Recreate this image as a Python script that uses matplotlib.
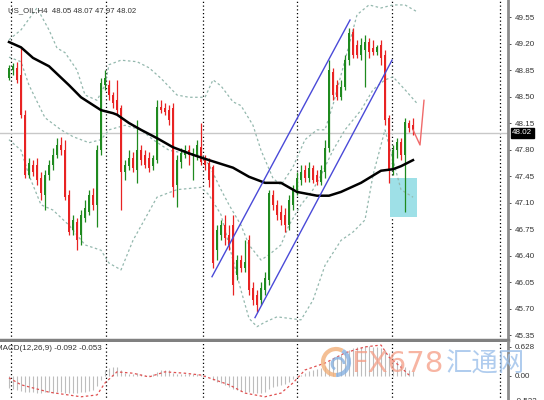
import matplotlib.pyplot as plt
from matplotlib.patches import Rectangle, Arc

plt.rcParams['font.family'] = ['Liberation Sans', 'DejaVu Sans']

# US_OIL H4 candles (one bar every 4 px)
opens = [48.74, 48.85, 48.88, 48.78, 48.26, 47.46, 47.60, 47.60, 47.42, 47.20,
         47.46, 47.60, 47.73, 47.86, 47.79, 47.20, 46.74, 46.84, 46.67, 46.90,
         46.98, 47.20, 47.07, 47.79, 48.65, 48.65, 48.52, 48.45, 48.35, 47.50,
         47.58, 47.69, 47.53, 47.79, 47.73, 47.69, 47.58, 47.66, 48.36, 48.35,
         48.32, 48.35, 47.33, 47.64, 47.73, 47.79, 47.73, 47.73, 47.83, 47.66,
         47.62, 47.57, 46.47, 46.67, 46.80, 46.67, 46.80, 46.14, 46.34, 46.24,
         46.60, 45.97, 45.88, 45.81, 45.94, 46.08, 47.20, 47.07, 46.98, 46.94,
         46.80, 47.07, 47.27, 47.40, 47.53, 47.42, 47.56, 47.46, 47.37, 47.50,
         47.82, 48.82, 48.65, 48.49, 48.63, 48.98, 49.35, 49.18, 49.05, 49.11,
         49.22, 49.14, 49.09, 49.18, 49.05, 48.22, 47.56, 47.79, 47.90, 47.73,
         48.15, 48.12]
highs = [48.92, 48.94, 48.96, 49.14, 48.32, 47.69, 47.66, 47.69, 47.50, 47.53,
         47.66, 47.82, 47.95, 47.97, 47.93, 47.27, 46.94, 46.90, 47.00, 47.13,
         47.27, 47.29, 47.86, 48.74, 48.85, 48.72, 48.56, 48.72, 48.39, 47.66,
         47.79, 47.77, 48.19, 47.86, 47.79, 47.77, 47.73, 48.45, 48.45, 48.41,
         48.39, 48.41, 47.73, 47.82, 47.86, 47.86, 47.82, 47.93, 48.15, 47.73,
         47.69, 47.60, 46.80, 46.87, 46.94, 46.80, 46.94, 46.41, 46.41, 46.60,
         46.67, 46.05, 45.94, 46.05, 46.18, 47.27, 47.27, 47.13, 47.07, 47.03,
         47.20, 47.33, 47.50, 47.60, 47.60, 47.64, 47.60, 47.53, 47.60, 47.93,
         48.98, 48.88, 48.72, 48.72, 49.05, 49.41, 49.41, 49.25, 49.27, 49.31,
         49.27, 49.25, 49.18, 49.25, 49.11, 48.26, 47.86, 47.95, 47.95, 48.22,
         48.19, 48.22]
lows = [48.72, 48.78, 48.68, 48.22, 47.42, 47.42, 47.45, 47.33, 47.13, 47.00,
        47.40, 47.53, 47.69, 47.73, 47.13, 46.67, 46.67, 46.47, 46.54, 46.84,
        46.94, 47.00, 46.77, 47.73, 48.59, 48.45, 48.35, 48.26, 47.00, 47.40,
        47.53, 47.50, 47.36, 47.60, 47.56, 47.50, 47.53, 47.62, 48.28, 48.26,
        48.12, 47.17, 47.04, 47.56, 47.69, 47.60, 47.40, 47.66, 47.60, 47.53,
        47.30, 46.24, 46.34, 46.60, 46.54, 46.47, 45.88, 46.08, 46.18, 46.18,
        45.88, 45.74, 45.65, 45.74, 45.88, 46.01, 47.00, 46.87, 46.80, 46.71,
        46.74, 47.00, 47.20, 47.33, 47.37, 47.37, 47.36, 47.33, 47.33, 47.42,
        47.77, 48.45, 48.45, 48.45, 48.59, 48.92, 49.01, 49.01, 48.98, 48.63,
        49.01, 49.05, 49.05, 48.92, 48.12, 47.36, 47.46, 47.69, 47.66, 46.98,
        48.03, 47.99]
closes = [48.88, 48.90, 48.72, 48.26, 47.46, 47.62, 47.50, 47.40, 47.23, 47.46,
          47.60, 47.73, 47.86, 47.79, 47.17, 46.71, 46.87, 46.60, 46.94, 47.03,
          47.20, 47.07, 47.79, 48.68, 48.74, 48.52, 48.41, 48.32, 47.50, 47.60,
          47.69, 47.56, 47.79, 47.66, 47.60, 47.56, 47.69, 48.36, 48.32, 48.30,
          48.19, 47.30, 47.66, 47.75, 47.79, 47.73, 47.75, 47.86, 47.64, 47.60,
          47.40, 46.30, 46.74, 46.80, 46.63, 46.54, 46.01, 46.34, 46.24, 46.31,
          45.94, 45.81, 45.74, 45.97, 46.10, 47.23, 47.07, 46.94, 46.87, 46.80,
          47.13, 47.27, 47.42, 47.50, 47.42, 47.56, 47.40, 47.37, 47.53, 47.82,
          48.85, 48.52, 48.49, 48.63, 48.98, 49.34, 49.05, 49.05, 49.18, 49.22,
          49.09, 49.09, 49.15, 49.01, 48.19, 47.53, 47.79, 47.90, 47.73, 48.16,
          48.08, 48.06]

# live bar outline at the right end
tail_x = [101, 102.75, 103.75]
tail_p = [48.06, 47.86, 48.45]

# black moving average
ma_x = [0, 3, 6, 10, 15, 18, 23, 26, 27, 30, 33, 37, 41, 46, 50, 56, 60, 64,
        68, 72, 77, 80, 83, 88, 93, 96, 98, 101]
ma_p = [49.22, 49.15, 49.01, 48.90, 48.65, 48.49, 48.32, 48.28, 48.26, 48.15,
        48.06, 47.95, 47.83, 47.73, 47.66, 47.56, 47.44, 47.36, 47.36, 47.24,
        47.19, 47.19, 47.24, 47.36, 47.52, 47.54, 47.58, 47.66]

# bollinger bands (dotted)
up_x = [0, 3, 7, 10, 12, 14, 17, 19, 22, 24, 25, 28, 32, 35, 38, 42, 45, 49,
        51, 53, 56, 58, 61, 63, 66, 68, 71, 74, 77, 79, 81, 84, 87, 90, 93, 96,
        99, 102]
up_p = [49.25, 49.38, 49.67, 49.38, 49.14, 49.08, 48.85, 48.52, 48.45, 48.65,
        48.92, 48.98, 48.96, 48.88, 48.74, 48.52, 48.49, 48.49, 48.72, 48.64,
        48.43, 48.38, 48.12, 47.79, 47.42, 47.33, 47.57, 47.93, 48.06, 48.06,
        48.39, 48.98, 49.58, 49.71, 49.67, 49.71, 49.71, 49.62]
mid_x = [0, 3, 5, 9, 13, 16, 20, 23, 25, 29, 33, 36, 40, 44, 48, 50, 53, 55,
         58, 60, 63, 65, 68, 70, 73, 76, 78, 81, 84, 88, 91, 94, 96, 99, 102]
mid_p = [49.02, 48.96, 48.65, 48.22, 48.06, 47.97, 47.89, 47.93, 48.06, 48.12,
         48.06, 47.93, 47.79, 47.75, 47.73, 47.60, 47.27, 47.07, 46.80, 46.54,
         46.34, 46.41, 46.54, 46.80, 47.07, 47.27, 47.46, 47.79, 48.06, 48.32,
         48.59, 48.72, 48.76, 48.59, 48.41]
low_x = [0, 3, 5, 8, 11, 15, 19, 23, 25, 28, 31, 37, 42, 48, 50, 53, 55, 58,
         60, 62, 64, 67, 70, 73, 76, 79, 83, 86, 89, 91, 94, 96, 98, 101]
low_p = [47.93, 47.79, 47.46, 47.07, 47.00, 46.80, 46.54, 46.47, 46.30, 46.21,
         46.60, 47.17, 47.27, 47.30, 47.20, 46.94, 46.54, 45.94, 45.57, 45.46,
         45.52, 45.59, 45.57, 45.55, 45.81, 46.27, 46.60, 46.71, 46.87, 47.46,
         48.06, 47.66, 47.27, 47.17]

# blue channel lines
chan1_x = [50.75, 85.25]
chan1_p = [46.12, 49.51]
chan2_x = [61.5, 95.75]
chan2_p = [45.58, 48.98]

# highlight box
box_x = [95.25, 102.0]
box_p = [46.91, 47.42]

last_price = 48.02
price_ticks = [45.35, 45.70, 46.05, 46.40, 46.75, 47.10, 47.45, 47.80,
               48.15, 48.50, 48.85, 49.20, 49.55]
sep_x = [0.5, 24.25, 48.5, 72, 95.75, 122.75]

# MACD(12,26,9): histogram per bar + signal line
macd_hist = [-0.25, -0.28, -0.30, -0.32, -0.34, -0.35, -0.35, -0.36, -0.36, -0.35,
             -0.35, -0.36, -0.35, -0.34, -0.36, -0.37, -0.37, -0.36, -0.35, -0.34,
             -0.33, -0.30, -0.22, -0.08, 0.12, 0.18, 0.20, 0.19, 0.12, 0.06,
             0.05, 0.04, 0.06, 0.05, 0.03, 0.03, 0.04, 0.08, 0.12, 0.13,
             0.12, 0.06, 0.04, 0.05, 0.05, 0.04, 0.04, 0.04, 0.03, 0.02,
             0.00, -0.08, -0.12, -0.16, -0.20, -0.24, -0.28, -0.30, -0.32, -0.34,
             -0.35, -0.36, -0.37, -0.36, -0.34, -0.28, -0.24, -0.22, -0.20, -0.17,
             -0.12, -0.07, -0.02, 0.03, 0.07, 0.10, 0.13, 0.16, 0.18, 0.22,
             0.32, 0.38, 0.42, 0.47, 0.52, 0.56, 0.60, 0.62, 0.63, 0.64,
             0.64, 0.63, 0.62, 0.60, 0.57, 0.50, 0.40, 0.33, 0.27, 0.20,
             0.14, 0.10]
sig_x = [0, 3, 10, 18, 22, 24, 27, 31, 35, 39, 44, 48, 55, 59, 64, 68, 71, 74,
         79, 84, 89, 93, 95, 98, 100]
sig_v = [-0.04, -0.19, -0.35, -0.45, -0.41, -0.15, 0.09, 0.06, -0.02, 0.09,
         0.06, 0.02, -0.19, -0.37, -0.45, -0.37, -0.15, 0.13, 0.28, 0.50,
         0.63, 0.67, 0.41, 0.19, 0.02]

GREEN = '#1f8a1f'
RED = '#e82323'
BAND = '#94b8ae'

fig = plt.figure(figsize=(5.44, 4.0), dpi=100)
ax = fig.add_axes([0, 60 / 400, 508 / 544, 340 / 400])
mx = fig.add_axes([0, -2 / 400, 508 / 544, 60 / 400])

for a in (ax, mx):
    a.set_xlim(-2.25, 124.75)
    for s in ('top', 'left', 'bottom'):
        a.spines[s].set_visible(False)
    a.spines['right'].set_color('#8c8c8c')
    a.spines['right'].set_linewidth(2)
    a.yaxis.tick_right()
    a.tick_params(axis='y', labelsize=5.8, length=2, width=0.6, pad=3,
                  colors='#333333')
    a.set_xticks([])
    for x in sep_x:
        a.axvline(x, color='black', lw=0.9, ls=(0, (1, 2)), zorder=1)

ax.spines['bottom'].set_visible(True)
ax.spines['bottom'].set_color('#808080')
ax.spines['bottom'].set_linewidth(2.5)

# main panel
ax.set_ylim(45.284, 49.775)
ax.set_yticks(price_ticks)
ax.set_yticklabels(['%.2f' % t for t in price_ticks])
ax.axhline(last_price, color='#c8c8c8', lw=1, zorder=1)

ax.add_patch(Rectangle((box_x[0], box_p[0]), box_x[1] - box_x[0],
                       box_p[1] - box_p[0], color='#9ee0e7', lw=0, zorder=1))

ax.plot(up_x, up_p, color=BAND, lw=0.9, ls=(0, (2, 2)), zorder=2)
ax.plot(mid_x, mid_p, color=BAND, lw=0.9, ls=(0, (2, 2)), zorder=2)
ax.plot(low_x, low_p, color=BAND, lw=0.9, ls=(0, (2, 2)), zorder=2)

for i in range(len(closes)):
    c = GREEN if closes[i] >= opens[i] else RED
    ax.vlines(i, lows[i], highs[i], color=c, lw=0.9, zorder=3)
    lo = min(opens[i], closes[i])
    h = max(abs(closes[i] - opens[i]), 0.012)
    ax.bar(i, h, bottom=lo, width=0.62, color=c, lw=0, zorder=3)
ax.plot(tail_x, tail_p, color='#f06a6a', lw=1, zorder=3)

ax.plot(ma_x, ma_p, color='black', lw=1.8, zorder=4)
ax.plot(chan1_x, chan1_p, color='#4a4ad8', lw=1, zorder=4)
ax.plot(chan2_x, chan2_p, color='#4a4ad8', lw=1, zorder=4)

ax.annotate('%.2f' % last_price, xy=(1.0, last_price),
            xycoords=('axes fraction', 'data'), xytext=(3, 0),
            textcoords='offset points', va='center', ha='left',
            fontsize=5.8, color='white',
            bbox=dict(boxstyle='square,pad=0.15', fc='black', ec='black'))

ax.text(8, 10, 'US_OIL,H4  48.05 48.07 47.97 48.02', transform=None,
        fontsize=5.6, color='#333333', va='center', ha='left')
ax.texts[-1].set_transform(fig.dpi_scale_trans)
ax.texts[-1].set_position((8 / 100, (400 - 11) / 100))

# MACD panel
mx.set_ylim(-0.563, 0.736)
mx.set_yticks([0.628, 0.0, -0.522])
mx.set_yticklabels(['0.628', '0.00', '-0.522'])
mx.vlines(range(len(macd_hist)), 0, macd_hist, color='#bdbdbd', lw=0.8,
          zorder=2)
mx.plot(sig_x, sig_v, color='#e05050', lw=0.9, ls=(0, (2, 2)), zorder=3)
fig.text(-4 / 544, 1 - 349 / 400, 'MACD(12,26,9) -0.092 -0.053',
         fontsize=5.8, color='#333333', va='center', ha='left')

# watermark
ov = fig.add_axes([0, 0, 1, 1])
ov.set_xlim(0, 544)
ov.set_ylim(400, 0)
ov.axis('off')
ov.add_patch(Arc((336, 362), 26, 26, theta1=90, theta2=300,
                 color='#f2b07a', lw=3, alpha=0.8))
ov.add_patch(Arc((336, 362), 26, 26, theta1=-60, theta2=90,
                 color='#86b0e0', lw=3, alpha=0.8))
ov.add_patch(Arc((338, 364), 12, 12, theta1=120, theta2=360,
                 color='#86b0e0', lw=2, alpha=0.8))
ov.text(351, 364, 'FX678', fontsize=21, color='#f59c84', alpha=0.75,
        va='center', ha='left', family=['DejaVu Sans'])
ov.text(446, 364, '汇通网', fontsize=19, color='#9cc0ea', alpha=0.8,
        va='center', ha='left', family=['Noto Sans CJK SC', 'DejaVu Sans'])

fig.savefig('out.png', dpi=100, facecolor='white')
